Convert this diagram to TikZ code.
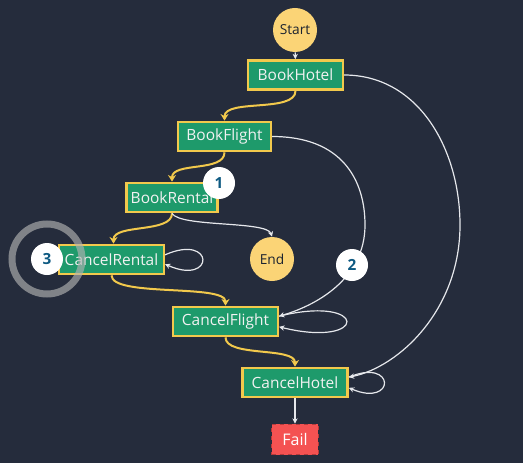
\documentclass[tikz,border=0pt]{standalone}
\usepackage{fontspec}
\setmainfont{Open Sans}
\usetikzlibrary{arrows.meta}
\definecolor{bgc}{HTML}{252C3C}
\definecolor{boxg}{HTML}{1E9A6B}
\definecolor{yel}{HTML}{F2C94C}
\definecolor{startc}{HTML}{FBD476}
\definecolor{failc}{HTML}{F45252}
\definecolor{faild}{HTML}{B83A3A}
\definecolor{wline}{HTML}{E6E8EC}
\definecolor{badgetxt}{HTML}{0E5A82}
\definecolor{darktxt}{HTML}{1B2330}
\tikzset{
  stbox/.style={draw=yel, line width=1.8pt, fill=boxg, text=white!95!black, font=\fontsize{11.6}{13}\selectfont, minimum height=22pt, inner sep=0pt},
  term/.style={circle, fill=startc, text=darktxt, font=\fontsize{10.3}{12}\selectfont, minimum size=33pt, inner sep=0pt},
  failbox/.style={draw=faild, dashed, line width=0.8pt, fill=failc, text=white, font=\fontsize{12}{14}\selectfont, minimum width=35pt, minimum height=23pt, inner sep=0pt},
  badge/.style={circle, fill=white, text=badgetxt, font=\bfseries\fontsize{11.5}{13}\selectfont, minimum size=24pt, inner sep=0pt},
  yarrow/.style={draw=yel, line width=1.5pt, -{Stealth[length=5pt,width=6pt]}},
  warrow/.style={draw=wline, line width=0.9pt, -{Stealth[length=4pt,width=4pt]}},
}
\begin{document}
\begin{tikzpicture}[x=0.75pt,y=-0.75pt]
\fill[bgc] (0,0) rectangle (523,463);
\useasboundingbox (0,0) rectangle (523,463);
% nodes
\node[term] (start) at (295,30) {Start};
\node[stbox, minimum width=71pt] (bh) at (295.5,75) {BookHotel};
\node[stbox, minimum width=69.5pt] (bf) at (224.5,136.5) {BookFlight};
\node[stbox, minimum width=68.5pt] (br) at (172,197.5) {BookRental};
\node[stbox, minimum width=78.5pt] (cr) at (111.5,259.5) {CancelRental};
\node[term] (endn) at (272,259) {End};
\node[stbox, minimum width=78.5pt] (cf) at (225.5,321.5) {CancelFlight};
\node[stbox, minimum width=79pt] (ch) at (295,382.5) {CancelHotel};
\node[failbox] (fail) at (295,439.5) {Fail};
% connectors
\draw[warrow] (start) -- (bh);
\draw[yarrow] (bh.south) .. controls +(0,22) and +(0,-22) .. (bf.north);
\draw[yarrow] (bf.south) .. controls +(0,20) and +(0,-20) .. (br.north);
\draw[yarrow] (br.south) .. controls +(0,20) and +(0,-20) .. ([xshift=1.5pt]cr.north);
\draw[warrow] (br.south) .. controls +(8,14) and +(-5,-16) .. (endn.north);
\draw[warrow] ([yshift=3.5pt]cr.east) .. controls +(50,-22) and +(50,22) .. ([yshift=-3.5pt]cr.east);
\draw[yarrow] (cr.south) .. controls +(0,22) and +(0,-22) .. (cf.north);
\draw[warrow] (bf.east) .. controls +(70,0) and +(0,-45) .. (365,225) .. controls +(0,55) and +(35,-10) .. ([yshift=4pt]cf.east);
\draw[warrow] ([yshift=4pt]cf.east) .. controls +(90,-22) and +(90,22) .. ([yshift=-4pt]cf.east);
\draw[yarrow] (cf.south) .. controls +(0,20) and +(0,-20) .. (ch.north);
\draw[warrow] (bh.east) .. controls +(75,0) and +(0,-75) .. (460,225) .. controls +(0,85) and +(50,-10) .. ([yshift=4pt]ch.east);
\draw[warrow] ([yshift=4pt]ch.east) .. controls +(47,-20) and +(47,20) .. ([yshift=-4pt]ch.east);
\draw[warrow] (ch) -- (fail);
% badges
\node[badge] (b1) at (219,183) {1};
\node[badge] (b2) at (352,265) {2};
\node[badge] (b3) at (47,259) {3};
\draw[draw=gray!60!white, draw opacity=0.65, line width=5.25pt] (b3.center) circle[radius=35];
\end{tikzpicture}
\end{document}
